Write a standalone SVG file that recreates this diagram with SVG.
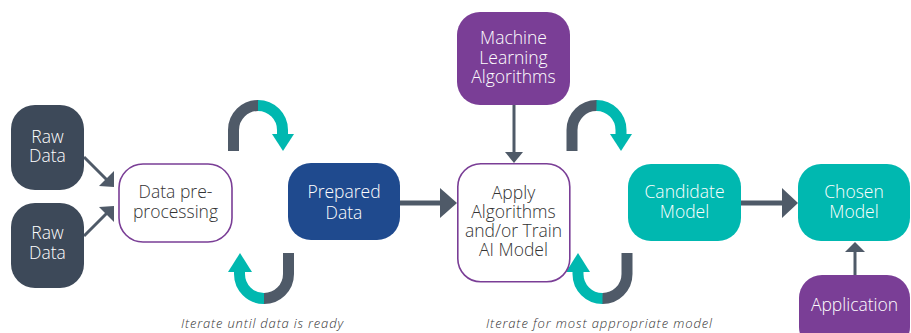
<svg xmlns="http://www.w3.org/2000/svg" width="911" height="333" viewBox="0 0 911 333">
<style>
.t{font-family:"Open Sans",Lato,"Liberation Sans",sans-serif;font-size:17.5px;font-weight:300;text-anchor:middle}
.w{fill:#ffffff}
.d{fill:#333333}
.cap{font-family:"Open Sans",Lato,"Liberation Sans",sans-serif;font-size:13px;font-style:italic;font-weight:300;fill:#333333;text-anchor:middle}
.ln{stroke:#4f5a68;fill:none}
.ah{fill:#4f5a68}
.g{stroke:#4f5a68;stroke-width:11;fill:none}
.c{stroke:#00b8b0;stroke-width:11;fill:none}
.ct{fill:#00b8b0}
</style>
<rect width="911" height="333" fill="#ffffff"/>
<g id="connectors">
<line class="ln" stroke-width="3" x1="84" y1="157" x2="107" y2="180"/>
<polygon class="ah" points="99,186 114,171 114,187"/>
<line class="ln" stroke-width="3" x1="84" y1="236" x2="107" y2="213"/>
<polygon class="ah" points="99,207 114,222 114,206"/>
<line class="ln" stroke-width="5" x1="400" y1="203" x2="442" y2="203"/>
<polygon class="ah" points="440,188 440,218 457,203"/>
<line class="ln" stroke-width="3" x1="514" y1="105" x2="514" y2="153"/>
<polygon class="ah" points="505,152 523,152 514,163"/>
<line class="ln" stroke-width="5" x1="741" y1="203" x2="784" y2="203"/>
<polygon class="ah" points="782,188 782,218 798,203"/>
<line class="ln" stroke-width="3" x1="855" y1="275" x2="855" y2="251"/>
<polygon class="ah" points="845,252 865,252 855,242"/>
<g id="loop-top-left">
<path class="g" d="M233.5,151 V130 A24.5,24.5 0 0 1 258.5,105.5"/>
<path class="c" d="M258,105.5 A24.5,24.5 0 0 1 282.5,130 V135"/>
<polygon class="ct" points="272,134 294,134 283,151"/>
</g>
<g id="loop-bottom-left">
<path class="g" d="M288.5,253 V274 A24.5,24.5 0 0 1 263.5,298.5"/>
<path class="c" d="M264,298.5 A24.5,24.5 0 0 1 239.5,274 V271"/>
<polygon class="ct" points="228,272 252,272 240,253"/>
</g>
<g id="loop-top-right">
<path class="g" d="M572,151 V130 A24.5,24.5 0 0 1 597,105.5"/>
<path class="c" d="M596.5,105.5 A24.5,24.5 0 0 1 621,130 V135"/>
<polygon class="ct" points="610,134 632,134 621,151"/>
</g>
<g id="loop-bottom-right">
<path class="g" d="M627,253 V274 A24.5,24.5 0 0 1 602,298.5"/>
<path class="c" d="M602.5,298.5 A24.5,24.5 0 0 1 578,274 V271"/>
<polygon class="ct" points="566,272 590,272 578,253"/>
</g>
</g>
<g id="raw1">
<rect x="11" y="105" width="73" height="85" rx="24" fill="#3d4959"/>
<text class="t w" x="47.5" y="143">Raw</text>
<text class="t w" x="47.5" y="162">Data</text>
</g>
<g id="raw2">
<rect x="11" y="203" width="73" height="85" rx="24" fill="#3d4959"/>
<text class="t w" x="47.5" y="239">Raw</text>
<text class="t w" x="47.5" y="259">Data</text>
</g>
<g id="preprocessing">
<rect x="119" y="164" width="113" height="78" rx="24" fill="#ffffff" stroke="#7a3e96" stroke-width="1.6"/>
<text class="t d" x="175.5" y="198">Data pre-</text>
<text class="t d" x="175.5" y="218">processing</text>
</g>
<g id="prepared">
<rect x="288" y="163" width="112" height="77" rx="23" fill="#1f4a8e"/>
<text class="t w" x="344" y="198">Prepared</text>
<text class="t w" x="344" y="219">Data</text>
</g>
<g id="ml-algorithms">
<rect x="457" y="12" width="113" height="93" rx="23" fill="#7a3e96"/>
<text class="t w" x="513.5" y="44">Machine</text>
<text class="t w" x="513.5" y="64">Learning</text>
<text class="t w" x="513.5" y="83">Algorithms</text>
</g>
<g id="apply">
<rect x="457.8" y="163.8" width="112" height="118" rx="23" fill="#ffffff" stroke="#7a3e96" stroke-width="1.6"/>
<text class="t d" x="513.5" y="199">Apply</text>
<text class="t d" x="513.5" y="218">Algorithms</text>
<text class="t d" x="513.5" y="237">and/or Train</text>
<text class="t d" x="513.5" y="256">AI Model</text>
</g>
<g id="candidate">
<rect x="628" y="164" width="113" height="77" rx="23" fill="#00b8b0"/>
<text class="t w" x="684.5" y="198">Candidate</text>
<text class="t w" x="684.5" y="218">Model</text>
</g>
<g id="chosen">
<rect x="798" y="164" width="112" height="77" rx="23" fill="#00b8b0"/>
<text class="t w" x="854" y="198">Chosen</text>
<text class="t w" x="854" y="218">Model</text>
</g>
<g id="application">
<rect x="799" y="275" width="111" height="75" rx="23" fill="#7a3e96"/>
<text class="t w" x="854.5" y="311">Application</text>
</g>
<text class="cap" x="262" y="328" textLength="162" lengthAdjust="spacing">Iterate until data is ready</text>
<text class="cap" x="599" y="328" textLength="226" lengthAdjust="spacing">Iterate for most appropriate model</text>
</svg>
